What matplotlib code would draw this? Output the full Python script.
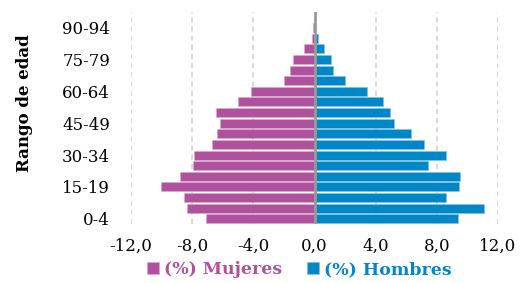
import matplotlib
matplotlib.use("Agg")
import matplotlib.pyplot as plt
import numpy as np

age_groups = ["0-4", "5-9", "10-14", "15-19", "20-24", "25-29", "30-34", "35-39",
              "40-44", "45-49", "50-54", "55-59", "60-64", "65-69", "70-74",
              "75-79", "80-84", "85-89", "90-94"]
mujeres = [-7.08, -8.33, -8.54, -10.01, -8.79, -7.95, -7.89, -6.73, -6.36, -6.18,
           -6.45, -5.02, -4.17, -1.97, -1.59, -1.42, -0.66, -0.15, -0.1]
hombres = [9.40, 11.06, 8.62, 9.47, 9.51, 7.43, 8.57, 7.15, 6.28, 5.23,
           4.92, 4.46, 3.43, 1.97, 1.23, 1.07, 0.59, 0.26, 0.03]
x_ticks = [-12, -8, -4, 0, 4, 8, 12]
x_ticklabels = ["-12,0", "-8,0", "-4,0", "0,0", "4,0", "8,0", "12,0"]
label_step = 3

pink = "#B0519E"
blue = "#0087C8"
font = "DejaVu Serif"

fig = plt.figure(figsize=(5.22, 2.83), dpi=100)
ax = fig.add_axes([0.251, 0.208, 0.703, 0.751])

y = np.arange(len(age_groups))
ax.barh(y, mujeres, height=0.84, color=pink, edgecolor="#D9A6CF", linewidth=0.4, zorder=3,
        label="(%) Mujeres")
ax.barh(y, hombres, height=0.84, color=blue, edgecolor="#7FC3E3", linewidth=0.4, zorder=3,
        label="(%) Hombres")

ax.set_xlim(-12, 12)
ax.set_ylim(-0.5, 19.5)
ax.set_xticks(x_ticks)
ax.set_xticklabels(x_ticklabels, fontfamily=font, fontsize=12)
ax.set_yticks(y[::label_step])
ax.set_yticklabels(age_groups[::label_step], fontfamily=font, fontsize=12)
ax.tick_params(axis="both", length=0)
ax.tick_params(axis="x", pad=10)
ax.tick_params(axis="y", pad=15)

for s in ax.spines.values():
    s.set_visible(False)
ax.grid(axis="x", color="#D2D2D2", linestyle=(0, (3, 2.5)), linewidth=1.2, zorder=0)
ax.axvline(0, color="#9A9A9A", linewidth=2, zorder=4)

ax.set_ylabel("Rango de edad", fontfamily=font, fontsize=12, fontweight="bold")
ax.yaxis.set_label_coords(-0.267, 0.57)

leg = fig.legend(loc="center", bbox_to_anchor=(0.573, 0.046), ncol=2, frameon=False,
                 prop={"family": font, "size": 12.5, "weight": "bold"},
                 handlelength=0.7, handleheight=0.7, handletextpad=0.3, columnspacing=1.4,
                 borderpad=0, borderaxespad=0)
for txt, col in zip(leg.get_texts(), [pink, blue]):
    txt.set_color(col)

fig.savefig("out.png", dpi=100)
